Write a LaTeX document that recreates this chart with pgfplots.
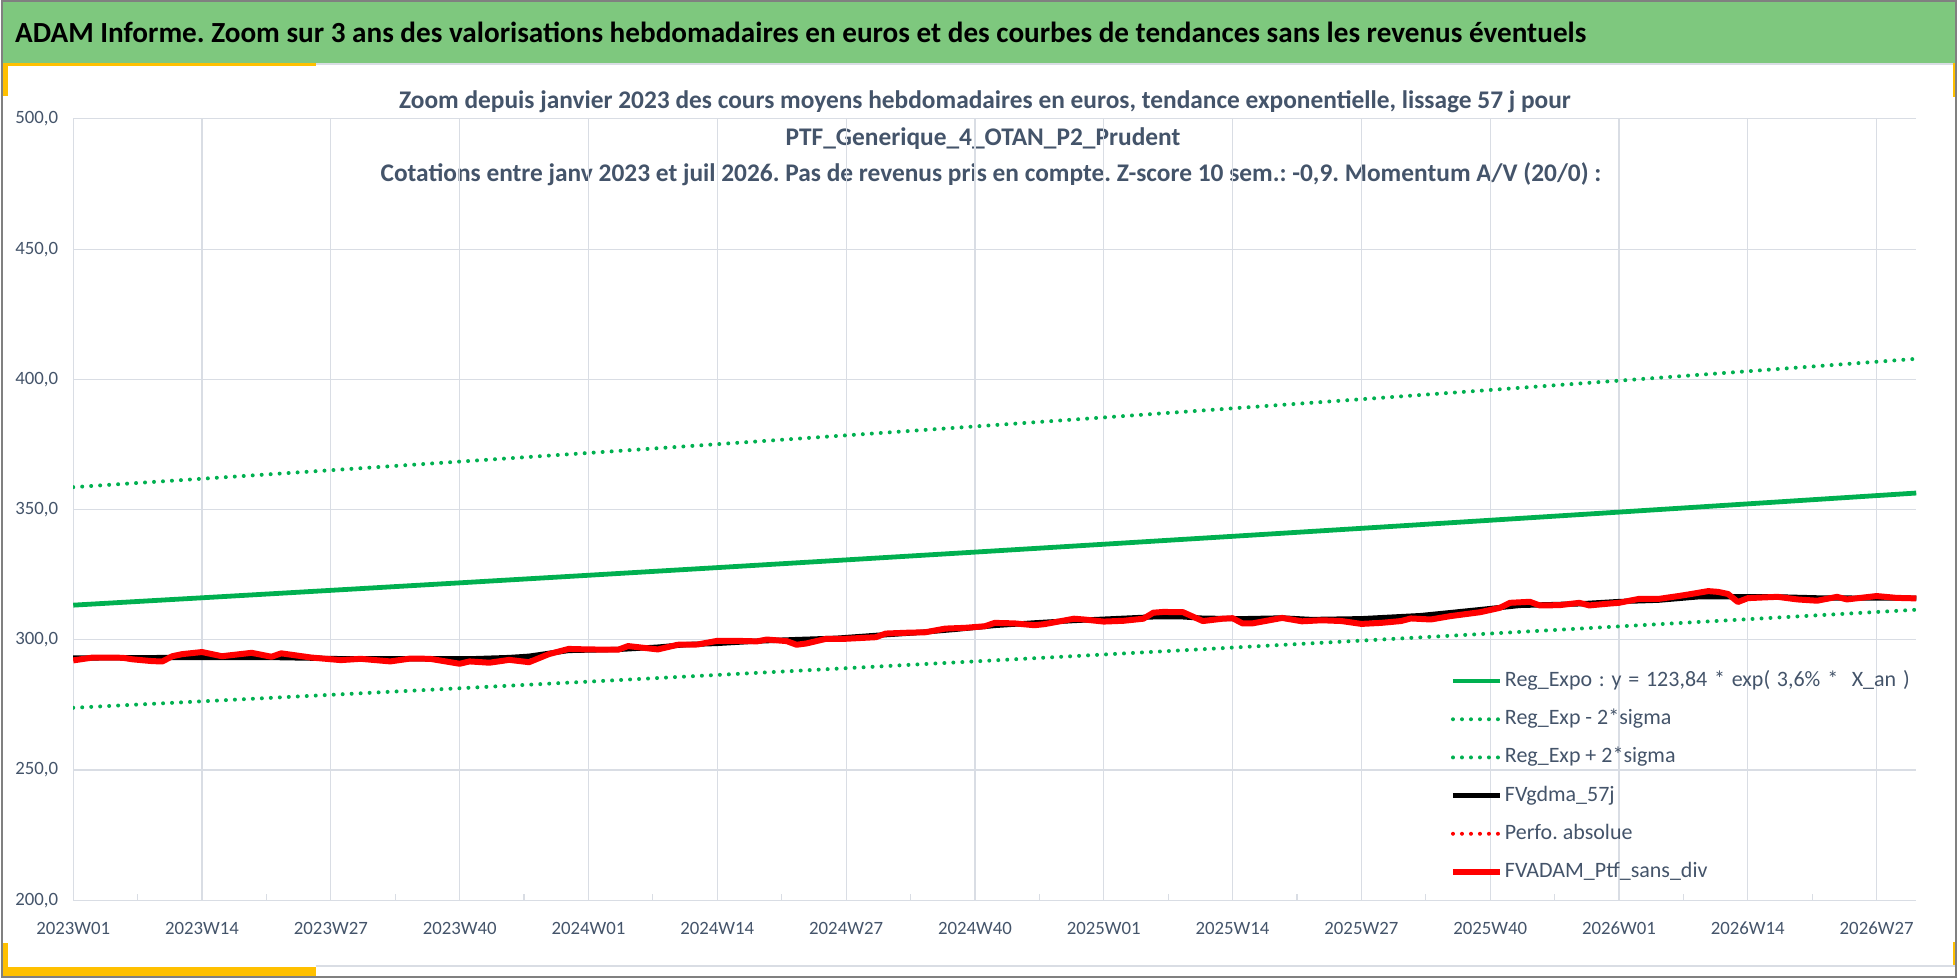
\documentclass[border=0pt]{standalone}
\usepackage{fontspec}
\setmainfont{Carlito}
\usepackage{pgfplots}
\pgfplotsset{compat=1.18}
\definecolor{bannergreen}{RGB}{126,200,126}
\definecolor{xlgreen}{RGB}{0,176,80}
\definecolor{xlyellow}{RGB}{255,192,0}
\definecolor{txt}{RGB}{68,84,106}
\definecolor{gridc}{RGB}{217,221,228}
\definecolor{xlred}{RGB}{255,0,0}
\frenchspacing
\begin{document}
\begin{tikzpicture}[x=1pt,y=1pt]
% background and frame
\fill[white] (0,0) rectangle (979,489.5);
\fill[bannergreen] (0,458) rectangle (979,489.5);
\draw[gridc, line width=0.8pt] (0,457.6) -- (979,457.6);
\fill[xlyellow] (0,456.5) rectangle (157.5,458);
\fill[xlyellow] (0,441.5) rectangle (3.5,458);
\fill[xlyellow] (0,5.5) rectangle (3.5,17.5);
\fill[xlyellow] (0,1) rectangle (157.5,5.5);
\fill[xlyellow] (977,441) rectangle (978.5,458);
\fill[xlyellow] (977,6) rectangle (978.5,18);
\draw[gridc, line width=0.8pt] (157.5,6) -- (979,6);
\draw[gray, line width=1pt] (0.5,0.5) rectangle (978.5,489);
% banner title
\node[anchor=base west, inner sep=0pt] at (7,468.2) {\fontsize{14.6}{17}\selectfont\bfseries ADAM Informe. Zoom sur 3 ans des valorisations hebdomadaires en euros et des courbes de tendances sans les revenus éventuels};
% chart title
\node[anchor=base, inner sep=0pt, text=txt] at (492.5,435) {\fontsize{12.7}{15}\selectfont\bfseries Zoom depuis janvier 2023 des cours moyens hebdomadaires en euros, tendance exponentielle, lissage 57 j pour};
\node[anchor=base, inner sep=0pt, text=txt] at (491.5,416.75) {\fontsize{12.7}{15}\selectfont\bfseries PTF\_Generique\_4\_OTAN\_P2\_Prudent};
\node[anchor=base, inner sep=0pt, text=txt] at (495.5,398.5) {\fontsize{12.7}{15}\selectfont\bfseries Cotations entre janv 2023 et juil 2026. Pas de revenus pris en compte. Z-score 10 sem.: -0,9. Momentum A/V (20/0) :};
\begin{axis}[
  at={(36.25pt,39pt)}, anchor=south west,
  scale only axis, width=922.25pt, height=391pt,
  xmin=0, xmax=186, ymin=200, ymax=500,
  xtick={0,13,...,182},
  xticklabels={2023W01,2023W14,2023W27,2023W40,2024W01,2024W14,2024W27,2024W40,2025W01,2025W14,2025W27,2025W40,2026W01,2026W14,2026W27},
  minor xtick={6.5,19.5,...,175.5},
  ytick={200,250,...,500},
  xmajorgrids, ymajorgrids,
  major grid style={gridc, line width=0.6pt},
  axis line style={draw=none},
  major tick length=0pt, minor tick length=3pt, tick align=inside,
  xtick pos=bottom, ytick pos=left,
  minor tick style={gridc, line width=0.6pt},
  xticklabel style={font=\fontsize{9.4}{11}\selectfont, text=txt, yshift=-7.5pt},
  yticklabel style={font=\fontsize{9.4}{11}\selectfont, text=txt, xshift=-4pt,
    /pgf/number format/.cd, fixed, fixed zerofill, precision=1, use comma, assume math mode=true},
  legend style={at={(0.7468,0.297)}, anchor=north west, draw=none, fill=none,
    font=\fontsize{11}{13}\selectfont, text=txt, inner sep=0pt,
    nodes={inner sep=1pt, text height=8pt, text depth=2.5pt}, row sep=6.6pt},
  legend cell align=left,
  legend image code/.code={\draw[#1] (0pt,0pt) -- (23.5pt,0pt);},
]
\addplot[xlgreen, line width=2.4pt] table {
0 313.30
13 316.13
26 318.99
39 321.87
52 324.78
65 327.72
78 330.68
91 333.67
104 336.69
117 339.73
130 342.80
143 345.90
156 349.03
169 352.19
182 355.37
186 356.35
};
\addlegendentry{\spaceskip=3.4pt\relax Reg\_Expo : y = 123,84 * exp( 3,6\% * \ X\_an )}
\addplot[xlgreen, line width=2pt, line cap=round, dash pattern=on 0pt off 4.5pt] table {
0 273.90
13 276.38
26 278.88
39 281.40
52 283.94
65 286.51
78 289.10
91 291.71
104 294.35
117 297.01
130 299.69
143 302.40
156 305.14
169 307.90
182 310.68
186 311.54
};
\addlegendentry{Reg\_Exp - 2*sigma}
\addplot[xlgreen, line width=2pt, line cap=round, dash pattern=on 0pt off 4.5pt] table {
0 358.60
13 361.84
26 365.11
39 368.42
52 371.74
65 375.11
78 378.50
91 381.92
104 385.37
117 388.86
130 392.37
143 395.92
156 399.50
169 403.11
182 406.75
186 407.88
};
\addlegendentry{Reg\_Exp + 2*sigma}
\addplot[black, line width=2.6pt, line join=round] table {
0 293.0
10 293.2
20 293.2
28 292.7
36 292.7
40 292.7
44 293.2
46 293.7
50 295.9
55 296.3
59 297.2
62 298.2
65 298.6
69 299.5
73 300.1
77 300.6
81 301.7
85 302.7
89 304.0
93 305.5
97 306.5
101 307.4
105 308.1
109 308.8
112 308.8
114 308.3
118 308.1
122 308.4
125 307.8
130 308.1
136 309.3
142 311.6
146 313.2
152 313.8
156 314.7
160 315.2
164 316.5
168 316.5
172 316.5
176 316.1
180 316.0
186 316.0
};
\addlegendentry{FVgdma\_57j}
\addlegendimage{xlred, line width=2pt, line cap=round, dash pattern=on 0pt off 4.5pt}
\addlegendentry{Perfo. absolue}
\addplot[xlred, line width=3pt, line join=round] table {
0 292.1
2 293.2
5 293.1
6 292.5
8 291.8
9 291.7
10 293.7
11 294.5
13 295.3
15 293.7
18 295.0
20 293.5
21 294.8
24 293.2
27 292.2
29 292.7
32 291.7
34 292.8
36 292.7
39 290.8
40 291.7
42 291.2
44 292.3
46 291.4
48 294.5
50 296.5
52 296.3
55 296.2
56 297.6
59 296.3
61 298.1
63 298.2
65 299.6
67 299.6
69 299.4
70 300.1
72 299.5
73 298.1
74 298.6
76 300.4
78 300.4
81 301.0
82 302.4
84 302.7
86 302.9
88 304.3
90 304.6
92 305.2
93 306.5
95 306.3
97 305.6
98 306.0
100 307.4
101 308.1
102 307.8
104 307.0
106 307.3
108 308.1
109 310.4
110 310.7
112 310.6
114 307.2
116 308.1
117 308.3
118 306.3
119 306.3
122 308.4
124 307.1
126 307.5
128 307.2
130 306.1
132 306.5
134 307.2
135 308.2
137 307.8
139 309.1
141 310.1
142 310.6
144 312.3
145 314.2
147 314.6
148 313.2
150 313.3
152 314.2
153 313.2
155 313.9
156 314.2
158 315.7
160 315.7
162 316.8
163 317.4
165 318.7
166 318.4
167 317.6
168 314.5
169 316.0
172 316.5
174 315.5
176 315.0
178 316.5
179 315.5
182 316.8
184 316.1
186 315.9
};
\addlegendentry{FVADAM\_Ptf\_sans\_div}
\end{axis}
\end{tikzpicture}
\end{document}
